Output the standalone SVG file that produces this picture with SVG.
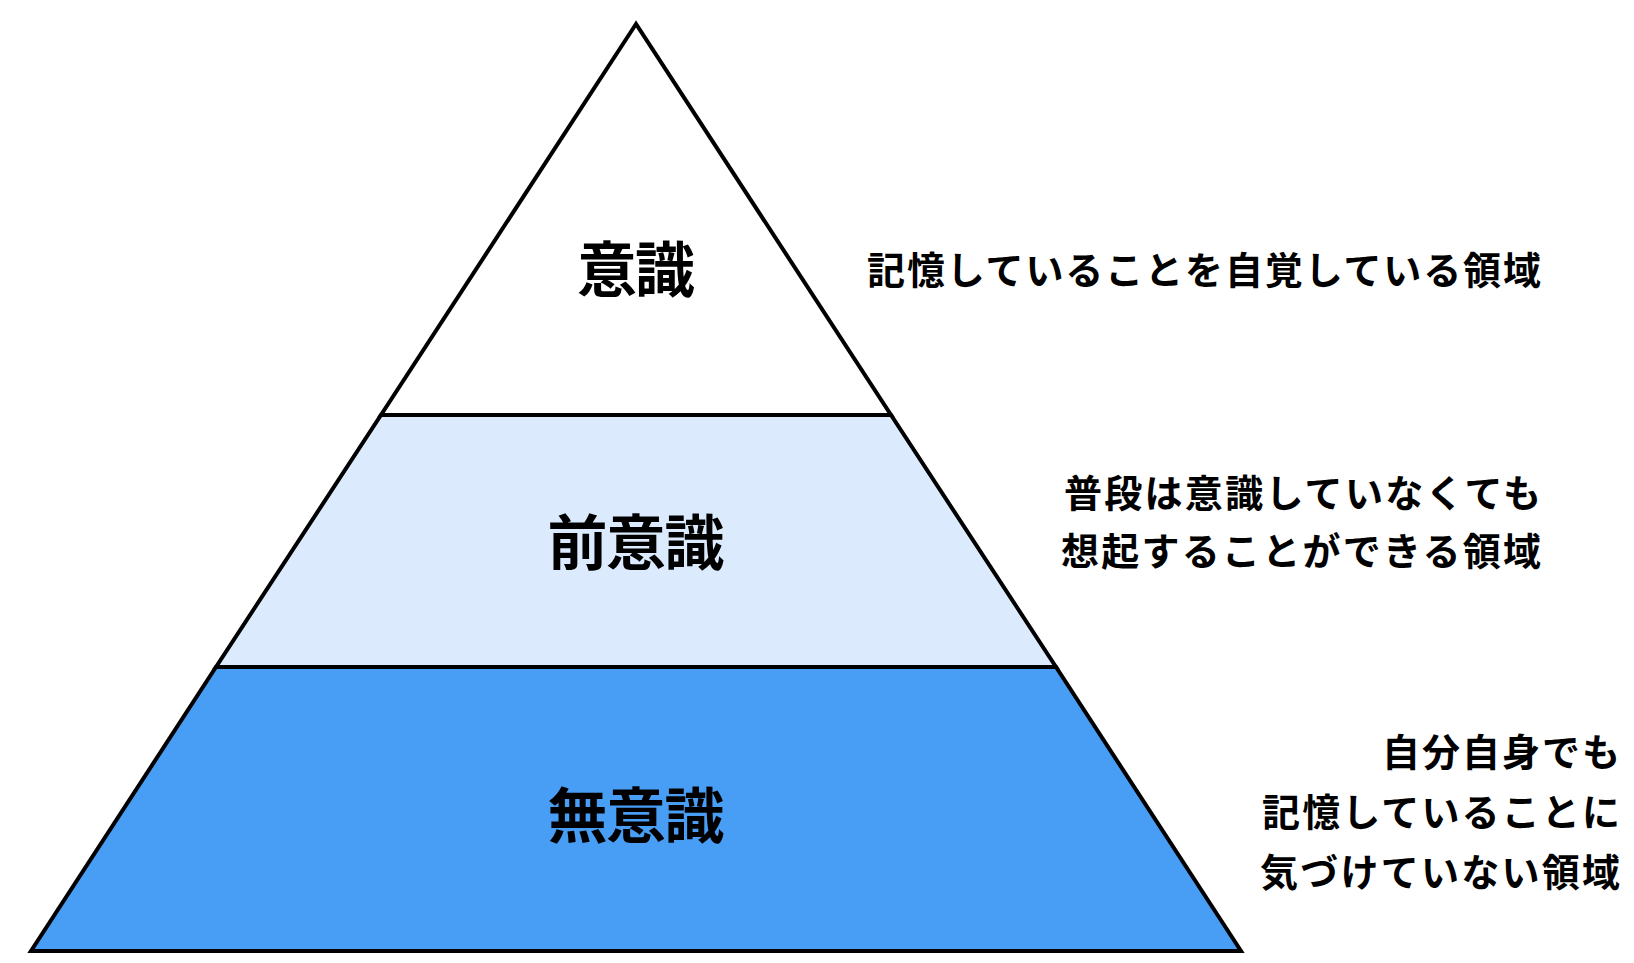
<svg xmlns="http://www.w3.org/2000/svg" width="1634" height="963" viewBox="0 0 1634 963">
<style>
.s{stroke:#000;stroke-width:4;stroke-linejoin:miter}
.big{font-family:"Noto Sans CJK JP",sans-serif;font-weight:bold;font-size:60px;text-anchor:middle;fill:#000}
.lbl{font-family:"Noto Sans CJK JP",sans-serif;font-weight:bold;font-size:38px;text-anchor:end;fill:#000}
</style>
<rect width="1634" height="963" fill="#fff"/>
<g id="top"><polygon class="s" points="636,24 381,415 891,415" fill="#fff"/><text class="big" x="636" y="292" textLength="118">意識</text></g>
<g id="middle"><polygon class="s" points="381,415 891,415 1056,667 216,667" fill="#dbebfd"/><text class="big" x="636" y="565" textLength="177">前意識</text></g>
<g id="bottom"><polygon class="s" points="216,667 1056,667 1241,951 31,951" fill="#489df5"/><text class="big" x="636" y="838" textLength="177">無意識</text></g>
<g id="labels">
<text class="lbl" x="1541" y="284" textLength="674">記憶していることを自覚している領域</text>
<text class="lbl" x="1541" y="507" textLength="477">普段は意識していなくても</text>
<text class="lbl" x="1541" y="565" textLength="480">想起することができる領域</text>
<text class="lbl" x="1620" y="766" textLength="238">自分自身でも</text>
<text class="lbl" x="1620" y="826" textLength="358">記憶していることに</text>
<text class="lbl" x="1620" y="886" textLength="360">気づけていない領域</text>
</g>
<g id="connectors"></g>
</svg>
